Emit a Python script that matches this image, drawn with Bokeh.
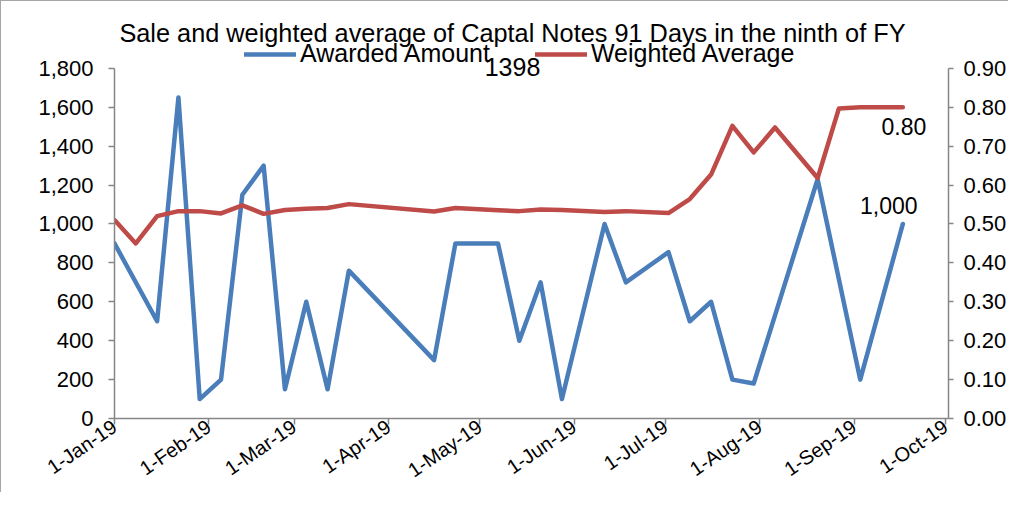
import pandas as pd
from bokeh.plotting import figure
from bokeh.models import (Range1d, LinearAxis, FixedTicker, NumeralTickFormatter,
                          DatetimeTickFormatter, Legend, LegendItem, Label)
from bokeh.embed import file_html
from bokeh.resources import INLINE
from bokeh.core.properties import value

# ---------------- data ----------------
title_lines = ["Sale and weighted average of Captal Notes 91 Days in the   ninth of FY", "1398"]
series_names = ["Awarded Amount", "Weighted Average"]

amount_dates = ["2019-01-01", "2019-01-15", "2019-01-22", "2019-01-29", "2019-02-05",
                "2019-02-12", "2019-02-19", "2019-02-26", "2019-03-05", "2019-03-12",
                "2019-03-19", "2019-04-16", "2019-04-23", "2019-05-07", "2019-05-14",
                "2019-05-21", "2019-05-28", "2019-06-11", "2019-06-18", "2019-07-02",
                "2019-07-09", "2019-07-16", "2019-07-23", "2019-07-30", "2019-08-20",
                "2019-09-03", "2019-09-17"]
amount_values = [900, 500, 1650, 100, 200,
                 1150, 1300, 150, 600, 150,
                 760, 300, 900, 900, 400,
                 700, 100, 1000, 700, 855,
                 500, 600, 200, 180, 1230,
                 200, 1000]

rate_dates = ["2019-01-01", "2019-01-08", "2019-01-15", "2019-01-22", "2019-01-29",
              "2019-02-05", "2019-02-12", "2019-02-19", "2019-02-26", "2019-03-05",
              "2019-03-12", "2019-03-19", "2019-04-16", "2019-04-23", "2019-05-07",
              "2019-05-14", "2019-05-21", "2019-05-28", "2019-06-11", "2019-06-18",
              "2019-07-02", "2019-07-09", "2019-07-16", "2019-07-23", "2019-07-30",
              "2019-08-06", "2019-08-20", "2019-08-27", "2019-09-03", "2019-09-17"]
rate_values = [0.51, 0.45, 0.52, 0.533, 0.533,
               0.527, 0.548, 0.526, 0.536, 0.539,
               0.541, 0.551, 0.532, 0.541, 0.535,
               0.533, 0.537, 0.536, 0.531, 0.533,
               0.528, 0.564, 0.627, 0.752, 0.684,
               0.748, 0.618, 0.797, 0.800, 0.800]

x_tick_dates = ["2019-01-01", "2019-02-01", "2019-03-01", "2019-04-01", "2019-05-01",
                "2019-06-01", "2019-07-01", "2019-08-01", "2019-09-01", "2019-10-01"]
x_start_date = "2019-01-01"
x_end_date = "2019-10-02"
amount_ticks = [0, 200, 400, 600, 800, 1000, 1200, 1400, 1600, 1800]
rate_ticks = [0.0, 0.1, 0.2, 0.3, 0.4, 0.5, 0.6, 0.7, 0.8, 0.9]

# ---------------- layout / style ----------------
W, H = 1008, 492
BORDER_L, BORDER_R, BORDER_B = 113, 60, 74
FRAME_H = H - BORDER_B          # frame reaches the top of the canvas (room for title/legend)
DATA_H = 351                    # pixel height of the 0..max value span
BLUE = "#4A7EBB"
RED = "#BE4B48"
AXIS = "#868686"
FONT = "Liberation Sans"

a_x = pd.to_datetime(amount_dates)
r_x = pd.to_datetime(rate_dates)
ticks_ms = [pd.Timestamp(d).value / 1e6 for d in x_tick_dates]
scale = FRAME_H / DATA_H

p = figure(width=W, height=H, x_axis_type="datetime", title=None,
           x_range=Range1d(pd.Timestamp(x_start_date), pd.Timestamp(x_end_date)),
           y_range=Range1d(amount_ticks[0], amount_ticks[-1] * scale),
           output_backend="svg", toolbar_location=None,
           min_border_left=BORDER_L, min_border_right=BORDER_R,
           min_border_top=0, min_border_bottom=BORDER_B)
p.extra_y_ranges = {"rate": Range1d(rate_ticks[0], rate_ticks[-1] * scale)}
p.xgrid.visible = False
p.ygrid.visible = False
p.outline_line_color = None
p.background_fill_color = "white"
p.border_fill_color = "white"
p.styles = {"border-left": "1px solid #a6a6a6", "border-top": "1px solid #a6a6a6"}

r1 = p.line(a_x, amount_values, line_color=BLUE, line_width=4.5, line_join="round", line_cap="round")
r2 = p.line(r_x, rate_values, line_color=RED, line_width=4.5, line_join="round", line_cap="round",
            y_range_name="rate")

right = LinearAxis(y_range_name="rate")
p.add_layout(right, "right")

xa = p.xaxis[0]
xa.ticker = FixedTicker(ticks=ticks_ms)
fmt = "%-d-%b-%y"
xa.formatter = DatetimeTickFormatter(microseconds=fmt, milliseconds=fmt, seconds=fmt,
                                     minsec=fmt, minutes=fmt, hourmin=fmt, hours=fmt,
                                     days=fmt, months=fmt, years=fmt)
xa.major_label_orientation = 0.6

ya = p.yaxis[0]
ya.ticker = FixedTicker(ticks=amount_ticks)
ya.formatter = NumeralTickFormatter(format="0,0")
ya.bounds = (amount_ticks[0], amount_ticks[-1])
right.ticker = FixedTicker(ticks=rate_ticks)
right.formatter = NumeralTickFormatter(format="0.00")
right.bounds = (rate_ticks[0], rate_ticks[-1])

for ax in [xa, ya, right]:
    ax.axis_line_color = AXIS
    ax.axis_line_width = 1.5
    ax.major_tick_line_color = AXIS
    ax.major_tick_line_width = 1.5
    ax.major_tick_in = 0
    ax.major_tick_out = 6
    ax.minor_tick_line_color = None
    ax.major_label_text_font = FONT
    ax.major_label_text_font_size = "22px"
    ax.major_label_text_color = "black"
xa.major_label_text_font_size = "20px"
xa.major_label_standoff = 0
ya.major_label_standoff = 15
right.major_tick_out = 5
right.major_label_standoff = 10

# data labels at the last points
p.text(x=[a_x[-1]], y=[amount_values[-1]], text=[f"{amount_values[-1]:,}"],
       text_align="center", text_baseline="alphabetic", x_offset=-14, y_offset=-18,
       text_font=value(FONT), text_font_size="23px", text_color="black")
p.text(x=[r_x[-1]], y=[rate_values[-1]], text=[f"{rate_values[-1]:.2f}"],
       text_align="center", text_baseline="alphabetic", x_offset=1, y_offset=19,
       text_font=value(FONT), text_font_size="23px", text_color="black", y_range_name="rate")

# title (two lines), inside the frame's head room
p.add_layout(Label(x=405, y=FRAME_H - 32, x_units="screen", y_units="screen", text=title_lines[0],
                   text_align="center", text_baseline="alphabetic",
                   text_font=FONT, text_font_size="25.3px", text_color="black"))
p.add_layout(Label(x=398, y=FRAME_H - 66, x_units="screen", y_units="screen", text=title_lines[1],
                   text_align="center", text_baseline="alphabetic",
                   text_font=FONT, text_font_size="25px", text_color="black"))

legend = Legend(items=[LegendItem(label=series_names[0], renderers=[r1]),
                       LegendItem(label=series_names[1], renderers=[r2])],
                orientation="horizontal", location=(130, FRAME_H - 68),
                glyph_width=52, glyph_height=20, label_height=20, label_standoff=4, spacing=45,
                padding=0, margin=0, border_line_color=None, background_fill_alpha=0,
                label_text_font=FONT, label_text_font_size="25px", label_text_color="black")
p.add_layout(legend)

open("out.html", "w").write(file_html(p, INLINE))
